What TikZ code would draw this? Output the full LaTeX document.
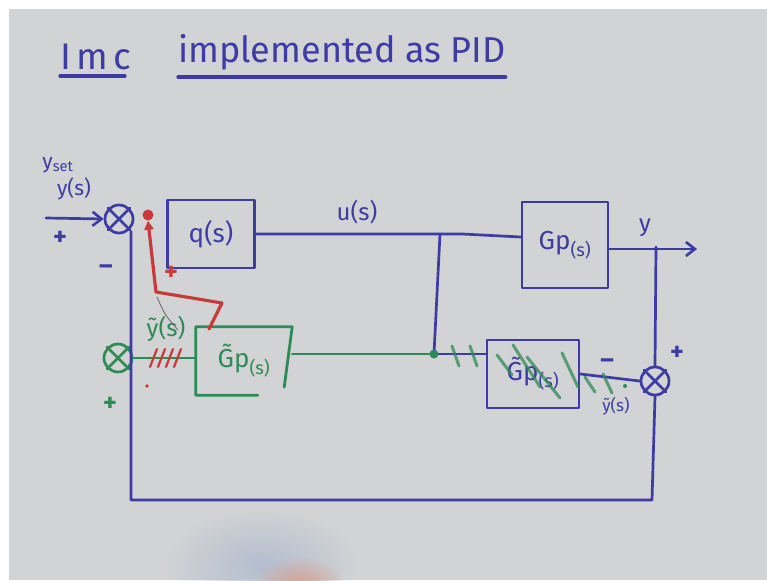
\documentclass[tikz,border=0pt]{standalone}
\usepackage{fontspec}
\setmainfont{Fira Sans}
\usetikzlibrary{arrows.meta,calc,fadings}
\definecolor{board}{HTML}{D1D3D4}
\definecolor{ink}{HTML}{3E3BA4}
\definecolor{gink}{HTML}{2F8A57}
\definecolor{rink}{HTML}{C83A3A}
\definecolor{skin}{HTML}{D99A86}
\definecolor{haze}{HTML}{B4BED0}
\tikzfading[name=softout,inner color=transparent!0,outer color=transparent!100]
\begin{document}
\begin{tikzpicture}[x=1pt,y=-1pt,line cap=round,line join=round,
  wire/.style={draw=ink,line width=2.7pt},
  gwire/.style={draw=gink,line width=2.8pt},
  rwire/.style={draw=rink,line width=3.2pt},
  bbox/.style={draw=ink,line width=2.7pt,inner sep=0pt,text=ink,font=\fontsize{26}{28}\selectfont},
  gbox/.style={inner sep=0pt,text=gink,font=\fontsize{26}{28}\selectfont},
  sumc/.style={circle,draw=ink,line width=2.7pt,minimum size=28pt,inner sep=0pt},
  lbl/.style={text=ink,inner sep=0pt,font=\fontsize{24}{26}\selectfont},
  glbl/.style={text=gink,inner sep=0pt,font=\fontsize{24}{26}\selectfont},
  plus/.style={inner sep=0pt,font=\fontsize{26}{28}\bfseries\selectfont},
  title/.style={text=ink,inner sep=0pt,font=\fontsize{36}{38}\selectfont},
  barb/.style={-{Straight Barb[length=9pt,width=14pt,line width=2.6pt]}}]
\useasboundingbox (0,0) rectangle (767,580);
\fill[white] (0,0) rectangle (767,580);
\fill[board] (9,9) rectangle (767,580);
% blurred hand at bottom
\begin{scope}
\clip (9,9) rectangle (767,580);
\fill[haze,path fading=softout] (262,565) ellipse (95 and 55);
\fill[skin,path fading=softout] (300,590) ellipse (48 and 34);
\end{scope}

% title
\node[title,anchor=south west,font=\fontsize{37}{39}\addfontfeature{LetterSpace=14}\selectfont] (t1) at (60,70) {Imc};
\node[title,anchor=south west] (t2) at (178,70) {implemented as PID};
\draw[wire,line width=3.2pt] (t1.south west)++(0,6) coordinate (u1a) -- ($(t1.south east|-u1a)+(-6,0)$);
\draw[wire,line width=3.2pt] (t2.south west)++(0,7) coordinate (u2a) -- (t2.south east|-u2a);

% blocks
\node[sumc] (s1) at (119,219) {};
\node[sumc,draw=gink] (s2) at (118,358) {};
\node[sumc] (s3) at (655,381) {};
\foreach \s in {s1,s3} \draw[wire] (\s.45) -- (\s.225) (\s.135) -- (\s.315);
\draw[gwire] (s2.45) -- (s2.225) (s2.135) -- (s2.315);

\node[bbox,minimum width=87pt,minimum height=68pt] (q) at (211,234) {q(s)};
\node[bbox,minimum width=86pt,minimum height=86pt] (gp) at (565,245) {Gp\textsubscript{(s)}};
\node[bbox,minimum width=92pt,minimum height=68pt] (gpm) at (533,374) {\~{G}p\textsubscript{(s)}};
\node[gbox,minimum width=96pt,minimum height=68pt] (gpg) at (244,361) {\~{G}p\textsubscript{(s)}};
\draw[gwire] ($(gpg.south east)+(-8,-8)$) -- (gpg.north east) -- (gpg.north west) -- (gpg.south west) -- ($(gpg.south west)+(62,0)$);

% labels
\node[lbl,font=\fontsize{21}{23}\selectfont] (lyset) at (58,165) {y\textsubscript{set}};
\node[lbl,font=\fontsize{21}{23}\selectfont] (lys) at (74,189) {y(s)};
\node[plus,text=ink] (lp1) at (60,238) {+};
\node[plus,text=ink] (lm1) at (106,270) {--};
\node[lbl] (lus) at (357,212) {u(s)};
\node[lbl] (ly) at (645,228) {y};
\node[plus,text=ink] (lp3) at (677,353) {+};
\node[plus,text=ink] (lm3) at (607,364) {--};
\node[lbl,font=\fontsize{17}{19}\selectfont] (lyt) at (616,406) {\~{y}(s)};
\node[glbl] (lgy) at (166,329) {\~{y}(s)};
\node[plus,text=gink] (lp2) at (110,404) {+};
\node[plus,text=rink] (lpr) at (171,273) {+};

% wires
\coordinate (yin) at (46,218);
\coordinate (jt) at (440,234);
\coordinate (yo) at (697,249);
\coordinate (ytap) at (656,247);
\coordinate (br) at (652,500);
\coordinate (bl) at (131,500);
\draw[wire,barb] (yin) -- (s1.west);
\draw[wire] (q.east) -- (jt) -- (jt -| 462,0) -- ($(gp.west)+(0,-8)$);
\draw[wire,barb] ($(gp.east)+(0,4)$) -- (yo);
\draw[wire] (ytap) -- (s3.north);
\node[circle,fill=gink,minimum size=9pt,inner sep=0pt] (jb) at (434,354) {};
\draw[wire] (jt) -- (jb);
\draw[gwire] (gpg.east |- jb) -- (jb);
\draw[wire] (jb) -- (jb -| gpm.west);
\draw[wire] (gpm.east) -- (s3.west);
\draw[wire] (s3.south) -- (br) -- (bl) -- (bl |- s1.-55);
\draw[gwire] (s2.east) -- (gpg.west |- s2.east);

% green hatching on model path
\foreach \a/\b in {{(452,346)}/{(459,366)},{(470,346)}/{(477,366)},{(497,355)}/{(512,375)},{(513,345)}/{(540,387)},{(527,357)}/{(560,398)},{(562,353)}/{(578,387)},{(585,377)}/{(595,392)},{(603,374)}/{(612,393)}}
  \draw[draw=gink,line width=3pt,opacity=0.75] \a -- \b;
\fill[gink] (625,386) circle (2pt);

% red correction path
\node[circle,fill=rink,minimum size=11pt,inner sep=0pt] (rd) at (148,215) {};
\coordinate (rs) at (209,329);
\draw[rwire,-{Triangle[length=9pt,width=9pt]}] (rs) -- (222,303) -- (156,292) -- (rd.south);
\draw[draw=black!60,line width=0.8pt] (157,297) .. controls (165,315) .. (178,330);
\foreach \x in {150,158,166,174}
  \draw[rwire,line width=2.2pt] (\x,367) -- (\x+7,349);
\fill[rink] (147,386) circle (1.8pt);
\end{tikzpicture}
\end{document}
